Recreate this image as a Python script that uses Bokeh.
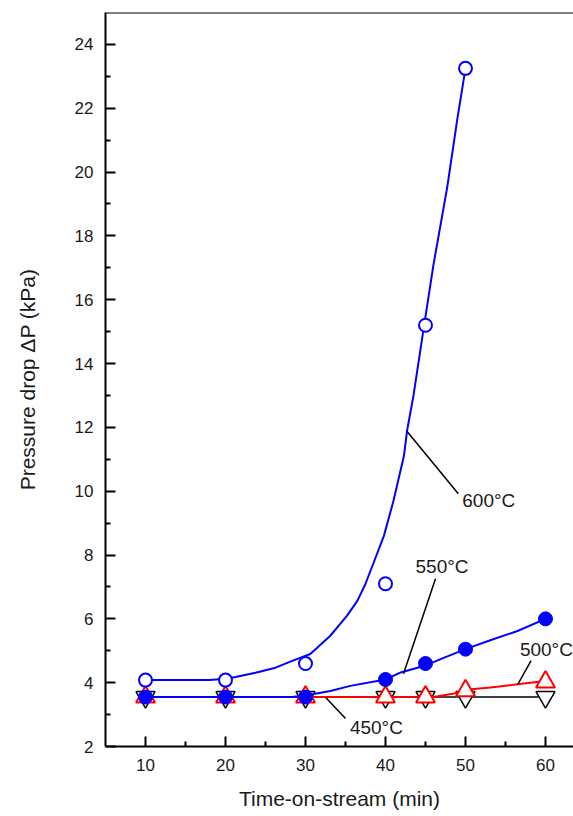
from bokeh.plotting import figure
from bokeh.models import FixedTicker, Range1d, Span
from bokeh.embed import file_html
from bokeh.resources import INLINE
from bokeh.core.properties import value

# ---- data ----
time_600 = [10, 20, 30, 40, 45, 50]
dp_600 = [4.08, 4.08, 4.6, 7.1, 15.2, 23.25]

time_all = [10, 20, 30, 40, 45, 50, 60]
dp_550 = [3.55, 3.55, 3.55, 4.1, 4.6, 5.05, 6.0]
dp_500 = [3.55, 3.55, 3.55, 3.55, 3.55, 3.75, 4.02]
dp_450 = [3.55, 3.55, 3.55, 3.55, 3.55, 3.55, 3.55]

# fitted curves as drawn in the reference
curve600_x = [10, 18, 20, 21.25, 23.75, 26.25, 28.5, 30.6, 33.1, 35.2, 36.5, 37.5,
              38.5, 39.8, 41.0, 42.3, 42.7, 43.5, 44.8, 46.0, 47.7, 49.0, 50]
curve600_y = [4.08, 4.08, 4.12, 4.18, 4.31, 4.47, 4.7, 4.9, 5.47, 6.1, 6.57, 7.1,
              7.75, 8.6, 9.7, 11.1, 11.9, 13.0, 15.15, 17.1, 19.5, 21.7, 23.25]
curve550_x = [10, 28.3, 30, 33.1, 35.6, 40, 41.9, 45, 47.5, 50, 53.1, 56.5, 60]
curve550_y = [3.55, 3.55, 3.6, 3.74, 3.9, 4.1, 4.32, 4.54, 4.8, 5.05, 5.33, 5.62, 6.0]
curve500_x = [30, 46, 48.4, 50, 53.1, 56.5, 60]
curve500_y = [3.55, 3.55, 3.65, 3.78, 3.85, 3.95, 4.05]
curve450_x = [10, 60]
curve450_y = [3.55, 3.55]

# annotation labels and their leader lines
label_text = ["600°C", "550°C", "500°C", "450°C"]
label_x = [49.6, 43.75, 56.8, 35.55]
label_y = [9.7, 7.63, 5.05, 2.58]
leader_x0 = [42.6, 46.25, 58.2, 32.5]
leader_y0 = [11.9, 7.26, 4.69, 3.54]
leader_x1 = [49.1, 42.25, 56.5, 35.0]
leader_y1 = [9.92, 4.28, 3.93, 2.88]

x_major = [10, 20, 30, 40, 50, 60]
x_minor = [15, 25, 35, 45, 55]
y_major = [2, 4, 6, 8, 10, 12, 14, 16, 18, 20, 22, 24]
y_minor = [3, 5, 7, 9, 11, 13, 15, 17, 19, 21, 23]

FONT = "Liberation Sans"

p = figure(width=573, height=816, output_backend="svg", toolbar_location=None,
           x_range=Range1d(5, 63.5), y_range=Range1d(2, 25),
           min_border_left=105, min_border_right=0, min_border_top=12,
           min_border_bottom=70)
p.outline_line_color = None
p.grid.visible = False
p.background_fill_color = "white"
p.border_fill_color = "white"

# axes
p.xaxis.ticker = FixedTicker(ticks=x_major, minor_ticks=x_minor)
p.yaxis.ticker = FixedTicker(ticks=y_major, minor_ticks=y_minor)
for ax in (p.xaxis[0], p.yaxis[0]):
    ax.axis_line_width = 2
    ax.axis_line_color = "black"
    ax.major_tick_in = 10
    ax.major_tick_out = 0
    ax.minor_tick_in = 5
    ax.minor_tick_out = 0
    ax.major_tick_line_width = 2
    ax.minor_tick_line_width = 2
    ax.major_tick_line_color = "black"
    ax.minor_tick_line_color = "black"
    ax.major_label_text_font = FONT
    ax.major_label_text_font_size = "17px"
    ax.major_label_text_color = "#1a1a1a"
    ax.axis_label_text_font = FONT
    ax.axis_label_text_font_size = "21px"
    ax.axis_label_text_font_style = "normal"
    ax.axis_label_text_color = "#1a1a1a"

p.xaxis.axis_label = "Time-on-stream (min)"
p.xaxis.major_label_standoff = 12
p.xaxis.axis_label_standoff = 13
p.yaxis.axis_label = "Pressure drop ΔP (kPa)"
p.yaxis.major_label_standoff = 12
p.yaxis.axis_label_standoff = 33

# top border line
p.add_layout(Span(location=25, dimension="width", line_color="black", line_width=2))

# 450 °C
p.line(curve450_x, curve450_y, line_color="black", line_width=1.5)
p.scatter(time_all, dp_450, marker="inverted_triangle", size=19,
          fill_color="white", line_color="black", line_width=1.5)

# 500 °C
p.line(curve500_x, curve500_y, line_color="red", line_width=2)
p.scatter(time_all, dp_500, marker="triangle", size=19,
          fill_color="white", line_color="red", line_width=2)

# 600 °C
p.line(curve600_x, curve600_y, line_color="blue", line_width=2)
p.scatter(time_600, dp_600, marker="circle", size=13,
          fill_color="white", line_color="blue", line_width=2)

# 550 °C
p.line(curve550_x, curve550_y, line_color="blue", line_width=2)
p.scatter(time_all, dp_550, marker="circle", size=14,
          fill_color="blue", line_color="blue", line_width=1)

# annotations
p.segment(x0=leader_x0, y0=leader_y0, x1=leader_x1, y1=leader_y1,
          line_color="black", line_width=1.5)
p.text(x=label_x, y=label_y, text=label_text, text_font=value(FONT),
       text_font_size="19px", text_align="left", text_baseline="middle",
       text_color="#1a1a1a")

open("out.html", "w").write(file_html(p, INLINE))
